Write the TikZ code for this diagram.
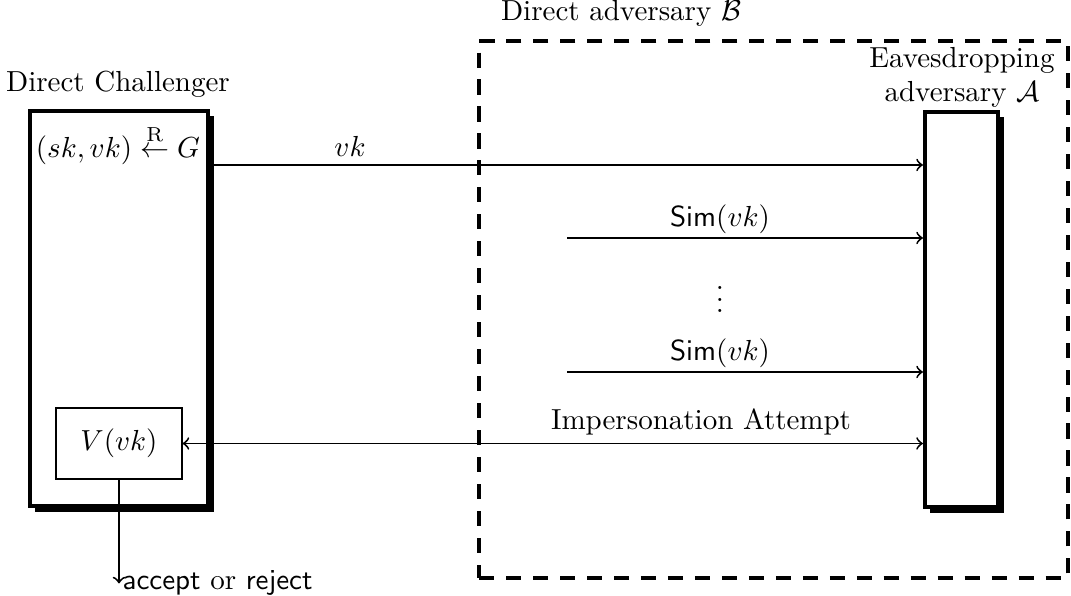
\documentclass[tikz,border=0pt]{standalone}
\usetikzlibrary{shadows}
\begin{document}
\begin{tikzpicture}[x=0.3448pt, y=-0.3448pt,
  party/.style={draw, line width=1.4pt, fill=white, inner sep=0pt,
    drop shadow={opacity=1, fill=black, shadow xshift=1.9pt, shadow yshift=-1.9pt}},
  verbox/.style={draw, line width=0.45pt, fill=white, inner sep=0pt, minimum width=43.4pt, minimum height=24.5pt},
  advbox/.style={draw, line width=1.2pt, dash pattern=on 5.2pt off 4.1pt, inner sep=0pt},
  arr/.style={->, line width=0.65pt},
  darr/.style={<->, line width=0.65pt},
  lbl/.style={inner sep=0pt, anchor=base}]
\useasboundingbox (0,0) rectangle (1071,596);
% adversary B (dashed)
\node[advbox, minimum width=203pt, minimum height=185.2pt] (B) at (773.5,309.5) {};
\node[lbl] (Blabel) at (621,21) {Direct adversary $\mathcal{B}$};
% challenger
\node[party, minimum width=61.5pt, minimum height=136.2pt] (C) at (119,308.5) {};
\node[lbl] (Clabel) at (118,92) {Direct Challenger};
\node[lbl] (keygen) at (118,158) {$(sk,vk) \stackrel{\mathrm{R}}{\leftarrow} G$};
\node[verbox] (V) at (119,443.5) {$V(vk)$};
% eavesdropper
\node[party, minimum width=25.2pt, minimum height=136.2pt] (A) at (961.5,309.5) {};
\node[inner sep=0pt, align=center, anchor=base] (Alabel) at (962,102) {Eavesdropping\\adversary $\mathcal{A}$};
% rows
\coordinate (r1) at (0,165);
\coordinate (s1) at (567,238);
\coordinate (s2) at (567,372);
\draw[arr] (C.east |- r1) -- (A.west |- r1);
\node[lbl] (vklabel) at (350,157) {$vk$};
\draw[arr] (s1) -- (s1 -| A.west);
\node[lbl] (sim1) at (720,227) {$\mathsf{Sim}(vk)$};
\node (dots) at (720,291) {$\vdots$};
\draw[arr] (s2) -- (s2 -| A.west);
\node[lbl] (sim2) at (720,361) {$\mathsf{Sim}(vk)$};
\draw[darr] (V.east) -- (V.east -| A.west);
\node[lbl] (imp) at (701,430) {Impersonation Attempt};
% output
\node[inner sep=0pt, anchor=base west] (out) at (122,590) {\textsf{accept} or \textsf{reject}};
\draw[arr] (V.south) -- (V.south |- out.west);
\end{tikzpicture}
\end{document}
